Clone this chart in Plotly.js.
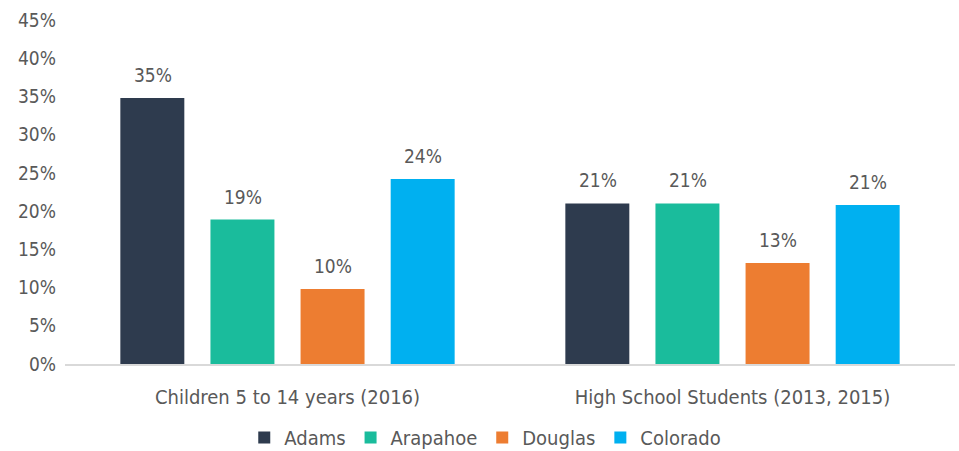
<!DOCTYPE html>
<html><head><meta charset="utf-8">
<script src="https://cdn.plot.ly/plotly-3.0.1.min.js"></script>
<style>html,body{margin:0;padding:0;background:#fff}#chart{width:959px;height:451px}</style>
</head><body><div id="chart"></div>
<script>
const categories = ["Children 5 to 14 years (2016)", "High School Students (2013, 2015)"];
const seriesNames = ["Adams", "Arapahoe", "Douglas", "Colorado"];
const adams = [34.8, 21.0];
const arapahoe = [18.9, 21.0];
const douglas = [9.8, 13.2];
const colorado = [24.2, 20.8];
const yTickVals = [0, 5, 10, 15, 20, 25, 30, 35, 40, 45];
const yTickText = ["0%", "5%", "10%", "15%", "20%", "25%", "30%", "35%", "40%", "45%"];

const colors = ["#2E3B4E", "#1ABC9C", "#ED7D31", "#00B0F0"];
const FONT = "'DejaVu Sans Condensed', 'Liberation Sans Narrow', sans-serif";
const values = [adams, arapahoe, douglas, colorado];
const traces = seriesNames.map((n, i) => ({
  type: "bar", name: n, x: categories, y: values[i],
  marker: {color: colors[i]},
  hoverinfo: "skip"
}));
const annotations = [];
values.forEach((vals, i) => {
  vals.forEach((v, j) => {
    annotations.push({
      x: categories[j], y: v, xref: "x", yref: "y",
      text: Math.round(v) + "%", showarrow: false,
      yanchor: "bottom", yshift: 10, xshift: (i - 1.5) * 90,
      font: {family: FONT, size: 19, color: "#595959"}
    });
  });
});
const layout = {
  width: 959, height: 451,
  margin: {l: 65, r: 4, t: 20, b: 87},
  paper_bgcolor: "#fff", plot_bgcolor: "#fff",
  barmode: "group", bargap: 0.19, bargroupgap: 0.29,
  font: {family: FONT, color: "#595959", size: 18},
  xaxis: {showline: true, linecolor: "#D9D9D9", linewidth: 2, ticks: "", tickfont: {size: 20, color: "#595959"}, showgrid: false, ticklabelstandoff: 14},
  yaxis: {range: [0, 45], tickvals: yTickVals, ticktext: yTickText, showgrid: false, zeroline: false, showline: false, ticks: "", tickfont: {size: 19, color: "#595959"}, ticklabelstandoff: 8},
  annotations: annotations,
  showlegend: true,
  legend: {orientation: "h", x: 0.506, xanchor: "center", xref: "container", y: 0.03, yanchor: "middle", yref: "container", font: {size: 20, color: "#595959"}, itemwidth: 30, tracegroupgap: 0}
};
Plotly.newPlot("chart", traces, layout, {displayModeBar: false, staticPlot: true});
</script></body></html>
